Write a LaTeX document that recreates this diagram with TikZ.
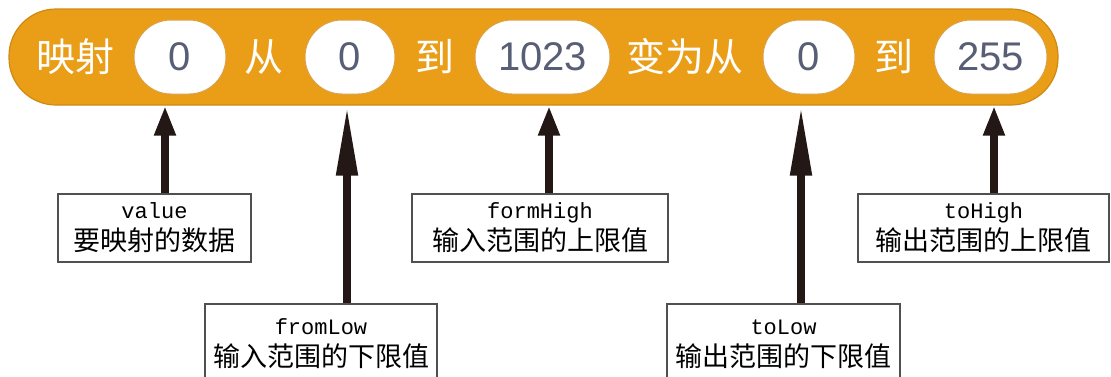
\documentclass[tikz,border=0pt]{standalone}
\usepackage{fontspec}
\setmainfont{Liberation Sans}
\newfontfamily\cjk{Noto Sans CJK SC}
\newfontfamily\monofam{Liberation Mono}
\usetikzlibrary{arrows.meta}
\definecolor{barorange}{HTML}{EA9D17}
\definecolor{baredge}{HTML}{D08A14}
\definecolor{ovaledge}{HTML}{D9A24A}
\definecolor{numgray}{HTML}{575E75}
\definecolor{arrowdark}{HTML}{231815}
\definecolor{boxedge}{HTML}{505050}
\begin{document}
\begin{tikzpicture}[x=1pt,y=-1pt,
  blockbar/.style={draw=baredge, fill=barorange, line width=1.2pt, rounded corners=47pt, minimum width=1049pt, minimum height=96pt, inner sep=0pt},
  slot/.style={draw=ovaledge, fill=white, line width=1pt, rounded corners=37pt, minimum height=74pt, inner sep=0pt, font=\fontsize{40}{42}\selectfont, text=numgray},
  word/.style={text=white, font=\cjk\fontsize{39}{40}\selectfont, inner sep=0pt},
  note/.style={draw=boxedge, line width=1.2pt, fill=white, align=center, inner sep=0pt, font=\cjk\fontsize{27}{32}\selectfont},
  pointer/.style={draw=arrowdark, line width=8pt, -{Triangle[length=#1, width=20pt]}},
]
\useasboundingbox (0,0) rectangle (1111,376);
\clip (0,0) rectangle (1111,376);

\node[blockbar] (bar) at (533.5,57) {};
\node[word] (w1) at (75,57) {映射};
\node[slot, minimum width=92pt] (s1) at (180,57) {0};
\node[word] (w2) at (264,57) {从};
\node[slot, minimum width=90pt] (s2) at (350,57) {0};
\node[word] (w3) at (435,57) {到};
\node[slot, minimum width=135pt] (s3) at (542.5,57) {1023};
\node[word] (w4) at (685,57) {变为从};
\node[slot, minimum width=92pt] (s4) at (809,57) {0};
\node[word] (w5) at (894,57) {到};
\node[slot, minimum width=113pt] (s5) at (990.5,57) {255};

\node[note, minimum width=193pt, minimum height=68pt] (n1) at (154.5,228)
  {{\monofam\fontsize{22}{32}\selectfont value}\\要映射的数据};
\node[note, minimum width=232pt, minimum height=80pt] (n2) at (321,344)
  {{\monofam\fontsize{22}{32}\selectfont fromLow}\\输入范围的下限值};
\node[note, minimum width=256pt, minimum height=68pt] (n3) at (540,228)
  {{\monofam\fontsize{22}{32}\selectfont formHigh}\\输入范围的上限值};
\node[note, minimum width=233pt, minimum height=80pt] (n4) at (783.5,344)
  {{\monofam\fontsize{22}{32}\selectfont toLow}\\输出范围的下限值};
\node[note, minimum width=251pt, minimum height=68pt] (n5) at (983.5,228)
  {{\monofam\fontsize{22}{32}\selectfont toHigh}\\输出范围的上限值};

\coordinate (x1) at (165,0);
\coordinate (x2) at (347,0);
\coordinate (x3) at (549,0);
\coordinate (x4) at (801,0);
\coordinate (x5) at (994,0);
\draw[pointer=30pt] (n1.north -| x1) -- (bar.south -| x1);
\draw[pointer=70pt] (n2.north -| x2) -- (bar.south -| x2);
\draw[pointer=30pt] (n3.north -| x3) -- (bar.south -| x3);
\draw[pointer=70pt] (n4.north -| x4) -- (bar.south -| x4);
\draw[pointer=30pt] (n5.north -| x5) -- (bar.south -| x5);
\end{tikzpicture}
\end{document}
